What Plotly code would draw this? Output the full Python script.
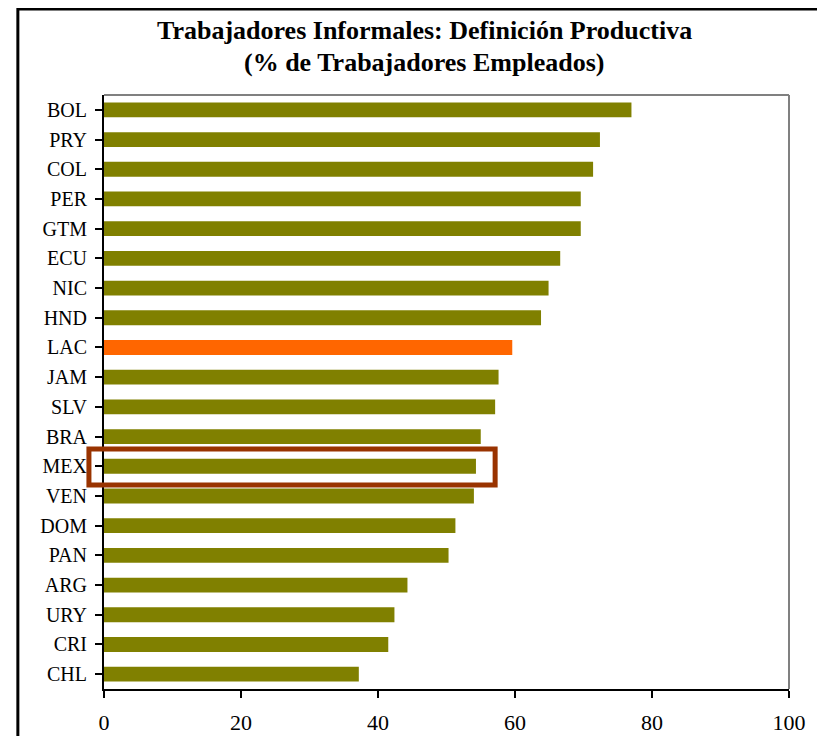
import plotly.graph_objects as go

countries = ["BOL", "PRY", "COL", "PER", "GTM", "ECU", "NIC", "HND", "LAC", "JAM",
             "SLV", "BRA", "MEX", "VEN", "DOM", "PAN", "ARG", "URY", "CRI", "CHL"]
values = [77.0, 72.4, 71.4, 69.6, 69.6, 66.6, 64.9, 63.8, 59.6, 57.6,
          57.1, 55.0, 54.3, 54.0, 51.3, 50.3, 44.3, 42.4, 41.5, 37.2]
title_line1 = "Trabajadores Informales: Definición Productiva"
title_line2 = "(% de Trabajadores Empleados)"
highlight = "MEX"
regional = "LAC"

OLIVE = "#808000"
ORANGE = "#FF6600"
BOX = "#993300"
FONT = "Liberation Serif, Times New Roman, serif"

colors = [ORANGE if c == regional else OLIVE for c in countries]
n = len(countries)
x_min, x_max = 0, 100

fig = go.Figure(go.Bar(
    x=values, y=list(range(n)), orientation="h",
    marker=dict(color=colors, line=dict(width=0)),
    width=0.5,
))

W, H = 817, 728
L, R, T, B = 95.5, 36, 86.7, 46.7
pw = W - L - R
ph = H - T - B

def px2paper_x(px):
    return (px - L) / pw

def px2paper_y(py):
    return (H - B - py) / ph

def data2paper_x(v):
    return (v - x_min) / (x_max - x_min)

def cat2paper_y(c):
    # range reversed: [n-0.5, -0.5]
    return 1 - (c + 0.5) / n

shapes = []
# outer frame
shapes.append(dict(type="rect", xref="paper", yref="paper",
                   x0=px2paper_x(9.3), x1=px2paper_x(814),
                   y0=px2paper_y(760), y1=px2paper_y(0.5),
                   line=dict(color="black", width=3), layer="above"))
# gray plot border top/right
shapes.append(dict(type="line", xref="paper", yref="paper", x0=0, x1=1, y0=1, y1=1,
                   line=dict(color="#808080", width=2), layer="below"))
shapes.append(dict(type="line", xref="paper", yref="paper", x0=1, x1=1, y0=0, y1=1,
                   line=dict(color="#808080", width=2), layer="below"))
# highlight box
hi = countries.index(highlight)
shapes.append(dict(type="rect", xref="paper", yref="paper",
                   x0=data2paper_x(-2.2), x1=data2paper_x(values[hi] + 2.8),
                   y0=cat2paper_y(hi + 0.63), y1=cat2paper_y(hi - 0.58),
                   line=dict(color=BOX, width=5), layer="above"))

fig.update_layout(
    width=W, height=H,
    margin=dict(l=L, r=R, t=T, b=B, autoexpand=False),
    paper_bgcolor="white", plot_bgcolor="white",
    showlegend=False,
    font=dict(family=FONT, color="black", size=20),
    shapes=shapes,
    annotations=[
        dict(text="<b>" + title_line1 + "</b>", xref="paper", yref="paper",
             x=px2paper_x(416), y=px2paper_y(22), showarrow=False,
             xanchor="center", yanchor="middle", font=dict(size=26, family=FONT)),
        dict(text="<b>" + title_line2 + "</b>", xref="paper", yref="paper",
             x=px2paper_x(416), y=px2paper_y(54), showarrow=False,
             xanchor="center", yanchor="middle", font=dict(size=26, family=FONT)),
    ],
)
fig.update_xaxes(range=[x_min, x_max], dtick=20, tick0=0, ticks="outside", ticklen=7,
                 tickwidth=2, tickcolor="black", showline=True, linecolor="black",
                 linewidth=2, showgrid=False, zeroline=False, ticklabelstandoff=6,
                 automargin=False, tickfont=dict(size=22, family=FONT))
fig.update_yaxes(range=[n - 0.5, -0.5], tickmode="array", tickvals=list(range(n)),
                 ticktext=countries, ticks="outside", ticklen=7, tickwidth=2,
                 tickcolor="black", showline=True, linecolor="black", linewidth=2,
                 showgrid=False, zeroline=False, tickson="boundaries", automargin=False,
                 ticklabelstandoff=4, tickfont=dict(size=20, family=FONT))

fig.write_html("out.html")
